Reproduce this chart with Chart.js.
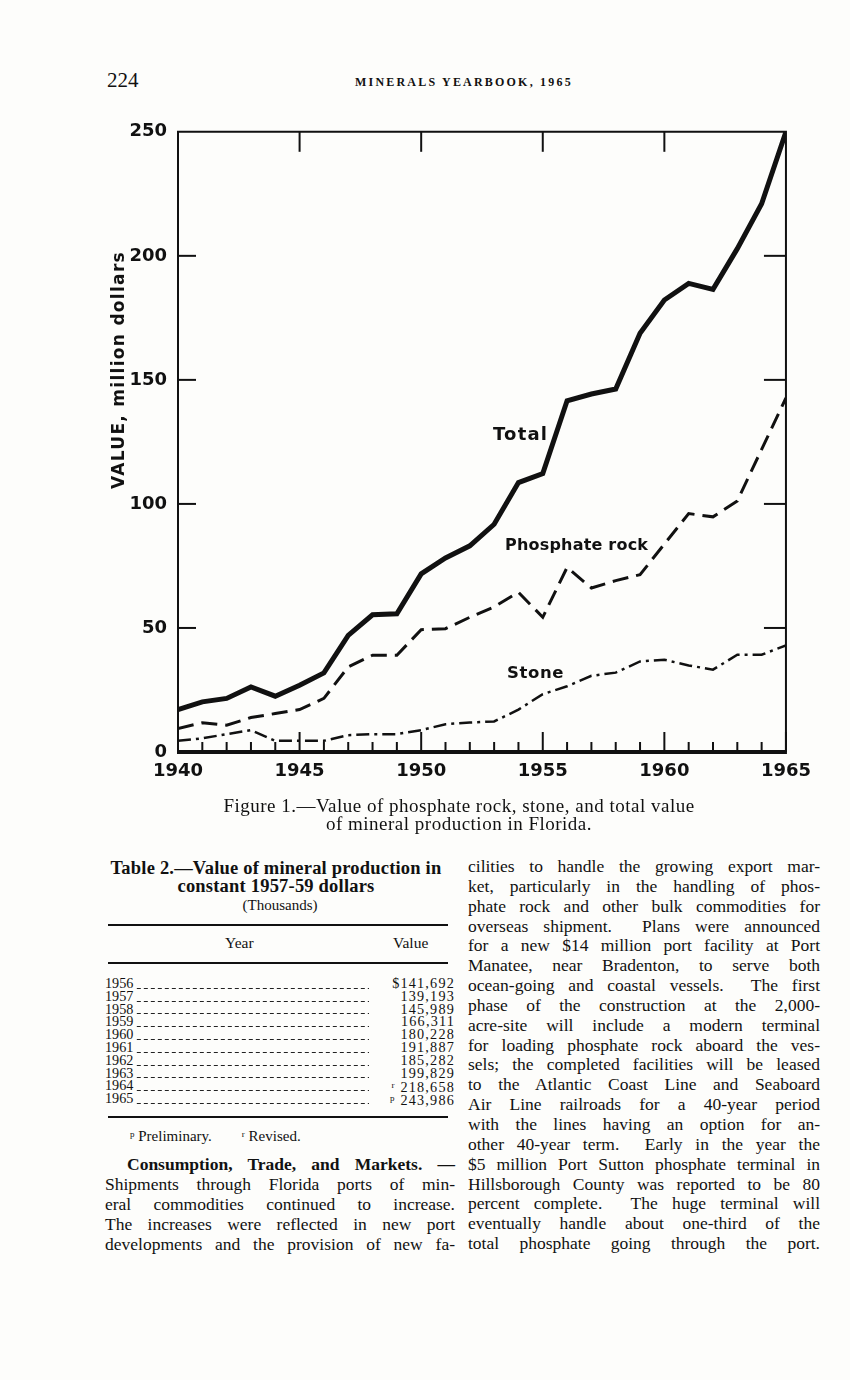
<!DOCTYPE html>
<html>
<head>
<meta charset="utf-8">
<script src="https://cdn.jsdelivr.net/npm/chart.js@4.4.1/dist/chart.umd.min.js"></script>
<style>
  body { margin: 0; background: #fff; }
  #page { position: relative; width: 850px; height: 1380px; background: #fdfdfb; color: #111; font-family: "Liberation Serif", serif; overflow: hidden; }
  .abs { position: absolute; white-space: nowrap; }
  .sans { font-family: "DejaVu Sans", sans-serif; font-weight: bold; }
  .jl { display: block; text-align: justify; text-align-last: justify; white-space: nowrap; }
  .row { position: absolute; left: 105px; width: 350px; height: 13px; font-size: 14.2px; line-height: 13px; display: flex; }
  .row .lead { flex: 1; margin: 0 6px 1px 3px; background-image: linear-gradient(to right, #222 55%, transparent 55%); background-size: 7px 1.3px; background-repeat: repeat-x; background-position: bottom; }
  .row .val { width: 80px; text-align: right; letter-spacing: 1.2px; }
  sup { font-size: 9px; vertical-align: 4px; }
</style>
</head>
<body>
<div id="page">
  <div class="abs" style="left:107px;top:68px;font-size:21px;">224</div>
  <div class="abs" style="left:355px;top:75px;font-size:12px;font-weight:bold;letter-spacing:2.2px;">MINERALS YEARBOOK, 1965</div>

  <div class="abs" style="left:100px;top:110px;width:720px;height:690px;">
    <canvas id="chart" width="720" height="690"></canvas>
  </div>

  <div class="abs sans" style="left:3px;top:364px;width:230px;font-size:17px;letter-spacing:1.3px;transform:rotate(-90deg);transform-origin:center;text-align:center;">VALUE, million dollars</div>
  <div class="abs sans" style="left:493px;top:423px;font-size:18px;letter-spacing:1.2px;">Total</div>
  <div class="abs sans" style="left:505px;top:535px;font-size:16px;letter-spacing:0.2px;">Phosphate rock</div>
  <div class="abs sans" style="left:507px;top:663px;font-size:16.5px;letter-spacing:0.6px;">Stone</div>

  <div class="abs" style="left:0;width:918px;top:797px;font-size:19px;line-height:18px;text-align:center;letter-spacing:0.5px;">Figure 1.—Value of phosphate rock, stone, and total value<br>of mineral production in Florida.</div>

  <div class="abs" style="left:100px;width:352px;top:859px;font-size:18.5px;line-height:18px;font-weight:bold;text-align:center;letter-spacing:0.2px;">Table 2.—Value of mineral production in<br>constant 1957-59 dollars</div>
  <div class="abs" style="left:105px;width:350px;top:897px;font-size:15px;text-align:center;">(Thousands)</div>
  <div class="abs" style="left:108px;width:340px;top:924px;height:2px;background:#111;"></div>
  <div class="abs" style="left:225px;top:934px;font-size:15.5px;">Year</div>
  <div class="abs" style="left:393px;top:934px;font-size:15.5px;">Value</div>
  <div class="abs" style="left:108px;width:340px;top:962px;height:1.5px;background:#111;"></div>
  <div id="rows"></div>
  <div class="abs" style="left:108px;width:340px;top:1116px;height:2px;background:#111;"></div>
  <div class="abs" style="left:130px;top:1128px;font-size:15px;"><sup>p</sup> Preliminary.&nbsp;&nbsp;&nbsp;&nbsp;&nbsp;&nbsp;&nbsp;&nbsp;<sup>r</sup> Revised.</div>

  <div class="abs" style="left:105px;width:350px;top:1154px;font-size:17.5px;line-height:20px;">
    <span class="jl" style="padding-left:22px;"><b>Consumption, Trade, and Markets. —</b></span>
    <span class="jl">Shipments through Florida ports of min-</span>
    <span class="jl">eral commodities continued to increase.</span>
    <span class="jl">The increases were reflected in new port</span>
    <span class="jl">developments and the provision of new fa-</span>
  </div>

  <div class="abs" style="left:468px;width:352px;top:857px;font-size:17.5px;line-height:19.85px;">
    <span class="jl">cilities to handle the growing export mar-</span>
    <span class="jl">ket, particularly in the handling of phos-</span>
    <span class="jl">phate rock and other bulk commodities for</span>
    <span class="jl">overseas shipment.&nbsp; Plans were announced</span>
    <span class="jl">for a new $14 million port facility at Port</span>
    <span class="jl">Manatee, near Bradenton, to serve both</span>
    <span class="jl">ocean-going and coastal vessels.&nbsp; The first</span>
    <span class="jl">phase of the construction at the 2,000-</span>
    <span class="jl">acre-site will include a modern terminal</span>
    <span class="jl">for loading phosphate rock aboard the ves-</span>
    <span class="jl">sels; the completed facilities will be leased</span>
    <span class="jl">to the Atlantic Coast Line and Seaboard</span>
    <span class="jl">Air Line railroads for a 40-year period</span>
    <span class="jl">with the lines having an option for an-</span>
    <span class="jl">other 40-year term.&nbsp; Early in the year the</span>
    <span class="jl">$5 million Port Sutton phosphate terminal in</span>
    <span class="jl">Hillsborough County was reported to be 80</span>
    <span class="jl">percent complete.&nbsp; The huge terminal will</span>
    <span class="jl">eventually handle about one-third of the</span>
    <span class="jl">total phosphate going through the port.</span>
  </div>
</div>

<script>
const years = [1940,1941,1942,1943,1944,1945,1946,1947,1948,1949,1950,1951,1952,
               1953,1954,1955,1956,1957,1958,1959,1960,1961,1962,1963,1964,1965];
const total = [17.1,20.2,21.6,26.2,22.5,26.9,31.9,47.0,55.3,55.7,71.8,78.2,83.1,
               91.8,108.6,112.2,141.6,144.3,146.3,168.8,182.2,188.9,186.5,202.9,221.0,250];
const phosphate = [9.5,11.8,10.8,13.9,15.5,17.1,21.6,34.3,39.0,39.0,49.3,49.7,54.3,
                   58.5,64.4,54.3,74.4,66.1,69.1,71.5,83.8,96.1,94.8,101.2,122.0,142.7];
const stone = [4.5,5.5,7.2,8.8,4.5,4.5,4.5,6.8,7.2,7.2,8.8,11.2,11.9,
               12.3,17.1,23.3,26.5,30.7,32.0,36.5,37.2,34.9,33.2,39.2,39.2,43.0];

const xTicks = [1940,1945,1950,1955,1960,1965];
const yTicks = [0,50,100,150,200,250];

// table 2
const tableYears = ["1956","1957","1958","1959","1960","1961","1962","1963","1964","1965"];
const tableValues = ["$141,692","139,193","145,989","166,311","180,228","191,887","185,282","199,829","218,658","243,986"];
const tableMarks = ["","","","","","","","","r","p"];

let html = "";
tableYears.forEach((yr, i) => {
  const mark = tableMarks[i] ? "<sup>" + tableMarks[i] + "</sup> " : "";
  html += '<div class="row" style="top:' + (977 + i * 12.8) + 'px"><span>' + yr +
          '</span><span class="lead"></span><span class="val">' + mark + tableValues[i] + '</span></div>';
});
document.getElementById("rows").innerHTML = html;

const pts = arr => years.map((yr, i) => ({x: yr, y: arr[i]}));

const frame = {
  id: "frame",
  afterDraw(chart) {
    const {ctx, chartArea: {left, right, top, bottom}, scales: {x, y}} = chart;
    ctx.save();
    ctx.strokeStyle = "#111";
    ctx.lineCap = "butt";
    ctx.lineWidth = 2;
    ctx.beginPath();
    ctx.moveTo(left, bottom); ctx.lineTo(left, top); ctx.lineTo(right, top); ctx.lineTo(right, bottom);
    ctx.stroke();
    // year ticks along the bottom
    years.forEach(v => {
      const px = x.getPixelForValue(v);
      const len = v % 5 === 0 ? 20 : 10;
      ctx.beginPath(); ctx.moveTo(px, bottom); ctx.lineTo(px, bottom - len); ctx.stroke();
    });
    // top ticks
    [1945,1950,1955,1960].forEach(v => {
      const px = x.getPixelForValue(v);
      ctx.beginPath(); ctx.moveTo(px, top); ctx.lineTo(px, top + 20); ctx.stroke();
    });
    // side ticks
    [50,100,150,200].forEach(v => {
      const py = y.getPixelForValue(v);
      ctx.beginPath(); ctx.moveTo(left, py); ctx.lineTo(left + 18, py); ctx.stroke();
      ctx.beginPath(); ctx.moveTo(right - 22, py); ctx.lineTo(right, py); ctx.stroke();
    });
    ctx.lineWidth = 4;
    ctx.beginPath(); ctx.moveTo(left - 1, bottom); ctx.lineTo(right + 1, bottom); ctx.stroke();
    ctx.restore();
  }
};

const ctx = document.getElementById("chart").getContext("2d");
const chart = new Chart(ctx, {
  type: "line",
  data: {
    datasets: [
      { label: "Total", data: pts(total), borderColor: "#111", borderWidth: 5, pointRadius: 0, tension: 0, borderJoinStyle: "miter" },
      { label: "Phosphate rock", data: pts(phosphate), borderColor: "#111", borderWidth: 3, borderDash: [16, 8], pointRadius: 0, tension: 0 },
      { label: "Stone", data: pts(stone), borderColor: "#111", borderWidth: 2.5, borderDash: [13, 5, 3, 5], pointRadius: 0, tension: 0 }
    ]
  },
  options: {
    responsive: false,
    animation: false,
    layout: { padding: { left: 0, right: 29, top: 19, bottom: 0 } },
    plugins: { legend: { display: false }, tooltip: { enabled: false } },
    scales: {
      x: {
        type: "linear", min: 1940, max: 1965,
        grid: { display: false, drawTicks: false }, border: { display: false },
        afterBuildTicks: s => { s.ticks = xTicks.map(v => ({value: v})); },
        afterFit: s => { s.height = 48; },
        ticks: { color: "#111", padding: 9, maxRotation: 0, font: { family: "DejaVu Sans", weight: "bold", size: 18 }, callback: v => String(v) }
      },
      y: {
        min: 0, max: 250,
        grid: { display: false, drawTicks: false }, border: { display: false },
        afterBuildTicks: s => { s.ticks = yTicks.map(v => ({value: v})); },
        afterFit: s => { s.width = 78; },
        ticks: { color: "#111", padding: 11, font: { family: "DejaVu Sans", weight: "bold", size: 18 } }
      }
    }
  },
  plugins: [frame]
});
</script>
</body>
</html>
